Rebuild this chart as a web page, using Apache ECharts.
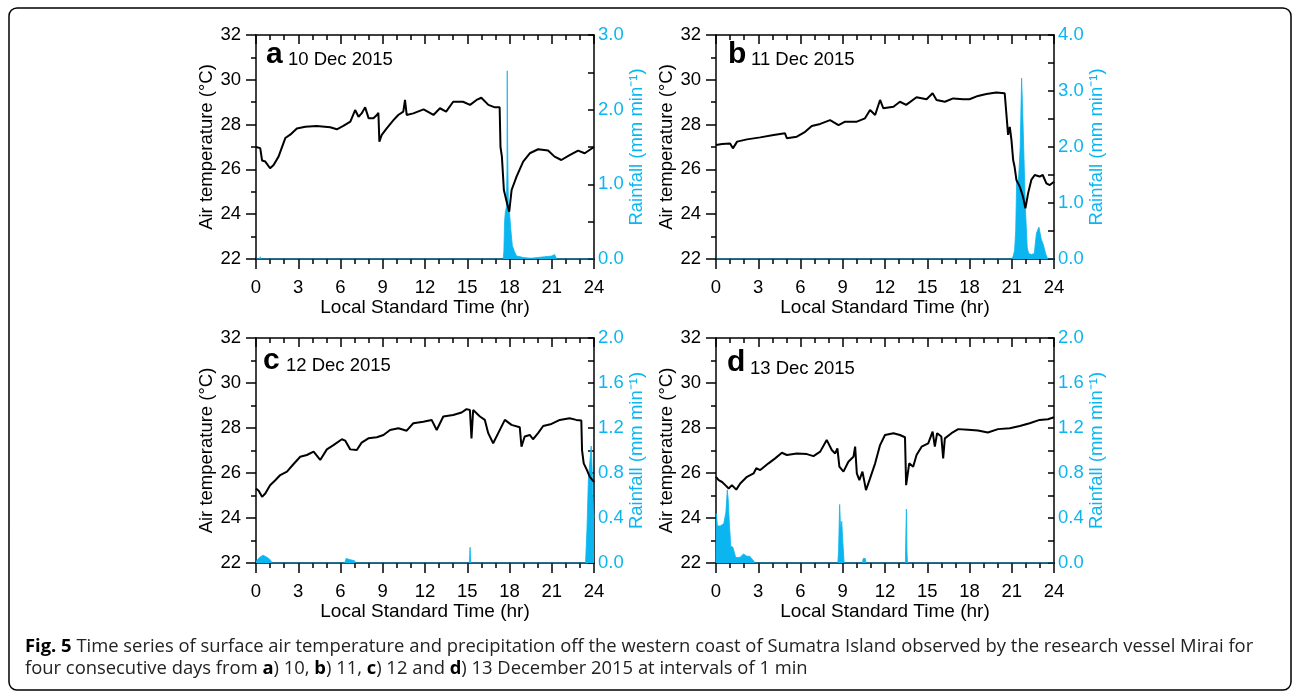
<!DOCTYPE html>
<html>
<head>
<meta charset="UTF-8">
<title>Fig. 5</title>
<script src="https://cdn.jsdelivr.net/npm/echarts@6/dist/echarts.min.js"></script>
<style>
  html, body { margin: 0; padding: 0; background: #fff; }
  #main { width: 1292px; height: 691px; }
</style>
</head>
<body>
<div id="main"></div>
<script>
// air temperature (degC), [hour, value]
var tempA = [[0,27.0],[0.3,26.95],[0.43,26.4],[0.66,26.35],[1.0,26.05],[1.25,26.2],[1.6,26.57],[2.08,27.4],[2.43,27.55],[2.9,27.83],[3.5,27.9],[4.3,27.94],[5.27,27.88],[5.74,27.79],[6.2,27.94],[6.7,28.13],[7.04,28.65],[7.28,28.35],[7.5,28.5],[7.75,28.77],[8.0,28.28],[8.34,28.28],[8.58,28.43],[8.69,28.53],[8.76,27.24],[8.93,27.54],[9.28,27.83],[9.76,28.2],[10.1,28.43],[10.46,28.58],[10.58,29.1],[10.7,28.43],[11.17,28.5],[11.9,28.68],[12.6,28.43],[13.06,28.73],[13.5,28.58],[14.0,29.02],[14.7,29.02],[15.2,28.88],[15.66,29.1],[16.0,29.2],[16.5,28.88],[16.96,28.77],[17.3,28.77],[17.36,27.0],[17.46,26.57],[17.6,25.08],[17.8,24.56],[17.98,24.11],[18.15,25.08],[18.5,25.68],[18.97,26.35],[19.44,26.72],[20.03,26.9],[20.74,26.84],[21.2,26.57],[21.68,26.42],[22.27,26.64],[22.87,26.84],[23.34,26.72],[24,27.0]];
var tempB = [[0,27.09],[0.43,27.13],[1.0,27.16],[1.2,26.94],[1.5,27.24],[2.2,27.34],[3.14,27.43],[4.09,27.54],[4.9,27.61],[5.03,27.39],[5.74,27.46],[6.33,27.68],[6.8,27.94],[7.4,28.03],[8.1,28.2],[8.7,27.98],[9.17,28.13],[10.0,28.13],[10.58,28.28],[10.94,28.65],[11.3,28.43],[11.65,29.1],[11.88,28.73],[12.6,28.8],[13.06,29.02],[13.5,28.88],[14.24,29.22],[14.95,29.13],[15.38,29.4],[15.66,29.1],[16.25,29.02],[16.84,29.17],[17.55,29.13],[18.0,29.13],[18.6,29.28],[19.2,29.37],[19.9,29.43],[20.5,29.4],[20.62,29.32],[20.74,27.54],[20.86,27.9],[20.98,27.31],[21.1,26.42],[21.2,26.12],[21.33,25.53],[21.57,25.23],[21.8,24.78],[21.97,24.26],[22.16,24.93],[22.39,25.53],[22.63,25.75],[22.98,25.68],[23.2,25.75],[23.46,25.38],[23.7,25.3],[24,25.45]];
var tempC = [[0,25.31],[0.19,25.21],[0.43,24.94],[0.66,25.09],[1.0,25.46],[1.37,25.68],[1.72,25.91],[2.2,26.06],[2.67,26.4],[3.14,26.72],[3.61,26.8],[4.09,26.95],[4.56,26.58],[5.03,27.05],[5.5,27.24],[6.1,27.5],[6.33,27.44],[6.69,27.05],[7.16,27.02],[7.5,27.35],[7.98,27.54],[8.58,27.59],[9.05,27.69],[9.52,27.91],[10.11,27.99],[10.7,27.88],[11.17,28.21],[11.88,28.28],[12.47,28.36],[12.83,27.91],[13.3,28.51],[14.0,28.58],[14.6,28.69],[14.95,28.84],[15.19,28.8],[15.3,27.54],[15.42,28.8],[15.9,28.51],[16.25,28.36],[16.49,27.77],[16.84,27.32],[17.2,27.77],[17.67,28.36],[18.14,28.14],[18.73,28.03],[18.85,27.17],[19.08,27.62],[19.44,27.69],[19.67,27.5],[20.03,27.77],[20.39,28.09],[20.98,28.18],[21.57,28.36],[22.27,28.43],[22.74,28.36],[23.1,28.33],[23.15,27.02],[23.27,26.43],[23.5,26.13],[23.7,25.83],[24,25.61]];
var tempD = [[0,25.83],[0.19,25.68],[0.43,25.6],[0.66,25.46],[0.9,25.31],[1.13,25.46],[1.44,25.26],[1.72,25.53],[2.2,25.83],[2.67,25.98],[2.86,26.21],[3.14,26.13],[3.73,26.43],[4.2,26.65],[4.68,26.9],[5.03,26.8],[5.74,26.87],[6.45,26.84],[6.92,26.75],[7.4,26.95],[7.86,27.47],[8.22,27.02],[8.46,26.87],[8.62,27.09],[8.76,26.28],[9.05,26.06],[9.4,26.5],[9.76,26.72],[9.88,27.17],[10.0,25.98],[10.18,25.68],[10.4,26.06],[10.65,25.24],[10.94,25.76],[11.3,26.43],[11.65,27.24],[12.0,27.69],[12.6,27.77],[13.06,27.69],[13.42,27.59],[13.5,25.46],[13.72,26.43],[14.0,26.28],[14.24,26.8],[14.6,27.17],[15.07,27.32],[15.38,27.84],[15.54,27.17],[15.7,27.77],[16.0,27.62],[16.13,26.65],[16.25,27.54],[16.72,27.77],[17.2,27.95],[17.9,27.92],[18.6,27.89],[19.3,27.8],[20.03,27.95],[20.86,27.99],[21.57,28.09],[22.27,28.21],[22.98,28.36],[23.57,28.39],[24,28.48]];

// rainfall (mm min-1), [hour, value]
var rainA = [[0,0],[0.25,0],[0.3,0.03],[0.35,0],[17.55,0],[17.6,0.1],[17.65,0.5],[17.7,0.62],[17.78,0.7],[17.82,1.2],[17.84,2.52],[17.87,1.5],[17.92,0.72],[18.0,0.62],[18.1,0.38],[18.2,0.18],[18.35,0.1],[18.5,0.04],[19.0,0.02],[19.5,0.01],[20.0,0.02],[20.5,0.03],[21.0,0.04],[21.2,0.06],[21.35,0],[24,0]];
var rainB = [[0,0],[21.0,0],[21.1,0.05],[21.2,0.15],[21.28,0.5],[21.35,1.41],[21.42,1.3],[21.5,1.5],[21.6,2.0],[21.7,3.23],[21.76,2.78],[21.85,2.78],[21.97,0.9],[22.1,0.2],[22.2,0.1],[22.4,0.08],[22.6,0.1],[22.75,0.46],[22.93,0.57],[23.1,0.35],[23.25,0.25],[23.4,0.1],[23.55,0],[24,0]];
var rainC = [[0,0],[0.05,0.02],[0.25,0.05],[0.5,0.07],[0.8,0.05],[1.0,0.03],[1.15,0],[6.3,0],[6.4,0.04],[6.7,0.03],[7.0,0.02],[7.05,0],[15.15,0],[15.2,0.14],[15.25,0],[23.4,0],[23.5,0.3],[23.6,0.74],[23.7,0.75],[23.8,1.04],[23.85,0.9],[23.95,0.5],[24,0.4]];
var rainD = [[0,0],[0.02,0.44],[0.1,0.33],[0.3,0.33],[0.55,0.35],[0.7,0.45],[0.8,0.65],[0.87,0.56],[0.95,0.35],[1.05,0.15],[1.2,0.14],[1.4,0.05],[1.7,0.05],[1.95,0.08],[2.2,0.06],[2.4,0.06],[2.6,0.03],[2.8,0],[8.65,0],[8.7,0.1],[8.78,0.52],[8.85,0.3],[8.93,0.37],[9.0,0.2],[9.1,0],[10.4,0],[10.45,0.04],[10.6,0.04],[10.65,0],[13.45,0],[13.48,0.25],[13.52,0.48],[13.56,0.1],[13.6,0],[24,0]];

var panelLetters = ['a', 'b', 'c', 'd'];
var panelDates = ['10 Dec 2015', '11 Dec 2015', '12 Dec 2015', '13 Dec 2015'];
var tempRange = [22, 32, 2];
var rainMax = [3.0, 4.0, 2.0, 2.0];
var rainStep = [1.0, 1.0, 0.4, 0.4];
var hourRange = [0, 24, 3];

var temps = [tempA, tempB, tempC, tempD];
var rains = [rainA, rainB, rainC, rainD];

var CYAN = '#0bb6f0';
var FONT = '"Liberation Sans", Arial, Helvetica, sans-serif';
var CAPFONT = '"Open Sans", sans-serif';

var myChart = echarts.init(document.getElementById('main'));

// plot boxes
var boxes = [
  { left: 256, top: 35, width: 338, height: 224 },
  { left: 716, top: 35, width: 338, height: 224 },
  { left: 256, top: 338, width: 338, height: 225 },
  { left: 716, top: 338, width: 338, height: 225 }
];
// panel letter / date positions (vertical middles)
var labelPos = [
  { lx: 266, ly: 55, dx: 288, dy: 60 },
  { lx: 728, ly: 55, dx: 751, dy: 60 },
  { lx: 263, ly: 361, dx: 286, dy: 366 },
  { lx: 727, ly: 363, dx: 750, dy: 369 }
];

var grid = [], xAxis = [], yAxis = [], series = [], graphic = [];
var blackLine = { show: true, onZero: false, lineStyle: { color: '#000', width: 1.5 } };

for (var i = 0; i < 4; i++) {
  grid.push(boxes[i]);

  // bottom hour axis
  xAxis.push({
    type: 'value', gridIndex: i, position: 'bottom',
    min: hourRange[0], max: hourRange[1], interval: hourRange[2],
    axisLine: blackLine,
    axisTick: { show: true, inside: false, length: 10, lineStyle: { color: '#000', width: 1.5 } },
    minorTick: { show: true, splitNumber: 3, length: 5, lineStyle: { color: '#000', width: 1.5 } },
    splitLine: { show: false },
    axisLabel: { color: '#000', fontSize: 18.5, fontFamily: FONT, margin: 19 },
    name: 'Local Standard Time (hr)', nameLocation: 'middle', nameGap: 39,
    nameTextStyle: { color: '#000', fontSize: 19, fontFamily: FONT }
  });
  // top mirror axis
  xAxis.push({
    type: 'value', gridIndex: i, position: 'top',
    min: hourRange[0], max: hourRange[1], interval: hourRange[2],
    axisLine: blackLine,
    axisTick: { show: true, inside: true, length: 9, lineStyle: { color: '#000', width: 1.5 } },
    minorTick: { show: true, splitNumber: 3, length: 5, lineStyle: { color: '#000', width: 1.5 } },
    splitLine: { show: false },
    axisLabel: { show: false }
  });
  // air temperature
  yAxis.push({
    type: 'value', gridIndex: i, position: 'left',
    min: tempRange[0], max: tempRange[1], interval: tempRange[2],
    axisLine: blackLine,
    axisTick: { show: true, inside: false, length: 10, lineStyle: { color: '#000', width: 1.5 } },
    minorTick: { show: true, splitNumber: 2, length: 5, lineStyle: { color: '#000', width: 1.5 } },
    splitLine: { show: false },
    axisLabel: { color: '#000', fontSize: 18.5, fontFamily: FONT, margin: 15 },
    name: 'Air temperature (°C)', nameLocation: 'middle', nameGap: 40, nameRotate: 90,
    nameTextStyle: { color: '#000', fontSize: 18.5, fontFamily: FONT }
  });
  // rainfall
  yAxis.push({
    type: 'value', gridIndex: i, position: 'right',
    min: 0, max: rainMax[i], interval: rainStep[i],
    axisLine: blackLine,
    axisTick: { show: true, inside: true, length: 6, lineStyle: { color: '#000', width: 1.5 } },
    minorTick: { show: true, splitNumber: 2, length: 6, lineStyle: { color: '#000', width: 1.5 } },
    splitLine: { show: false },
    axisLabel: { color: CYAN, fontSize: 18.5, fontFamily: FONT, margin: 4,
      formatter: function (v) { return v.toFixed(1); } },
    name: 'Rainfall (mm min⁻¹)', nameLocation: 'middle', nameGap: 32, nameRotate: 90,
    nameTextStyle: { color: CYAN, fontSize: 18.5, fontFamily: FONT }
  });

  series.push({
    type: 'line', xAxisIndex: 2 * i, yAxisIndex: 2 * i + 1,
    data: rains[i], symbol: 'none', silent: true, z: 2,
    lineStyle: { color: CYAN, width: 0.8 },
    areaStyle: { color: CYAN, opacity: 1 }
  });
  series.push({
    type: 'line', xAxisIndex: 2 * i, yAxisIndex: 2 * i, z: 3,
    data: temps[i], symbol: 'none', silent: true,
    lineStyle: { color: '#000', width: 2 }
  });

  graphic.push({
    type: 'text', x: labelPos[i].lx, y: labelPos[i].ly,
    style: { text: panelLetters[i], fill: '#000', font: 'bold 30px ' + FONT, verticalAlign: 'middle' }
  });
  graphic.push({
    type: 'text', x: labelPos[i].dx, y: labelPos[i].dy,
    style: { text: panelDates[i], fill: '#000', font: '18.5px ' + FONT, verticalAlign: 'middle' }
  });
}

// caption frame
graphic.push({
  type: 'rect', shape: { x: 9, y: 8, width: 1282, height: 682, r: 8 },
  style: { fill: 'none', stroke: '#000', lineWidth: 1.5 }, z: -1
});
// caption
var capRich = {
  b: { fontWeight: 'bold', fontSize: 18.4, fontFamily: CAPFONT, fill: '#000' }
};
graphic.push({
  type: 'text', x: 25, y: 647,
  style: {
    text: '{b|Fig. 5} Time series of surface air temperature and precipitation off the western coast of Sumatra Island observed by the research vessel Mirai for',
    font: '18.4px ' + CAPFONT, fill: '#222', rich: capRich, verticalAlign: 'middle'
  }
});
graphic.push({
  type: 'text', x: 25, y: 669,
  style: {
    text: 'four consecutive days from {b|a}) 10, {b|b}) 11, {b|c}) 12 and {b|d}) 13 December 2015 at intervals of 1 min',
    font: '18.4px ' + CAPFONT, fill: '#222', rich: capRich, verticalAlign: 'middle'
  }
});

var option = {
  animation: false,
  backgroundColor: '#fff',
  grid: grid,
  xAxis: xAxis,
  yAxis: yAxis,
  series: series,
  graphic: graphic
};
myChart.setOption(option);
</script>
</body>
</html>
